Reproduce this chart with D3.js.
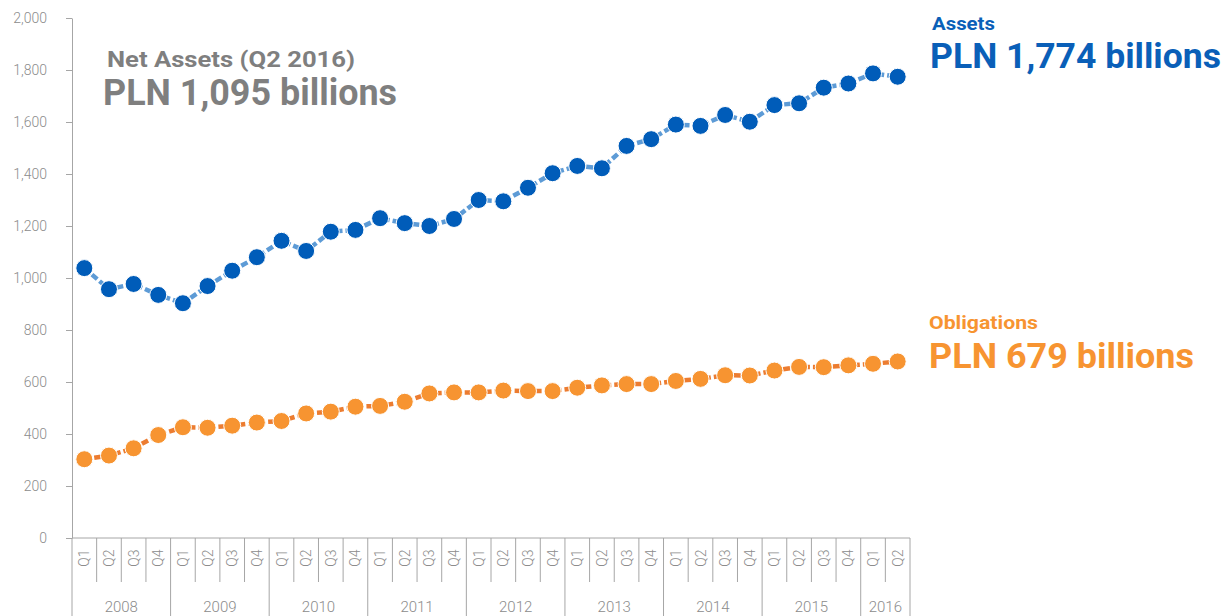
<!DOCTYPE html>
<html>
<head>
<meta charset="utf-8">
<script src="https://d3js.org/d3.v7.min.js"></script>
<style>
  body { margin: 0; background: #fff; }
  svg text { font-family: Roboto, "Liberation Sans", sans-serif; }
  .y.axis text { fill: #8c8c8c; font-size: 14px; font-weight: 300; }
  .y.axis path, .y.axis line { stroke: #a6a6a6; }
</style>
</head>
<body>
<svg id="chart" width="1226" height="616"></svg>
<script>
const years = ["2008", "2009", "2010", "2011", "2012", "2013", "2014", "2015", "2016"];
const quartersPerYear = [4, 4, 4, 4, 4, 4, 4, 4, 2];
const yTicks = [0, 200, 400, 600, 800, 1000, 1200, 1400, 1600, 1800, 2000];
const assets = [1038, 957, 977, 935, 903, 969, 1028, 1080, 1143, 1104, 1178, 1185,
                1230, 1211, 1200, 1227, 1300, 1295, 1347, 1403, 1431, 1422, 1508, 1534,
                1590, 1585, 1627, 1601, 1665, 1672, 1732, 1748, 1787, 1774];
const obligations = [303, 317, 345, 396, 426, 424, 432, 444, 450, 479, 486, 505,
                     508, 524, 556, 560, 560, 567, 565, 565, 578, 587, 592, 592,
                     604, 612, 626, 625, 644, 658, 657, 664, 670, 679];

// quarter labels built from the year list
const quarters = [];
years.forEach((y, i) => {
  for (let q = 1; q <= quartersPerYear[i]; q++) quarters.push({ year: y, q: "Q" + q, key: y + "Q" + q });
});

const svg = d3.select("#chart");
const margin = { top: 18, left: 72 };
const chartWidth = 838;
const chartHeight = 520;

const x = d3.scaleBand().domain(quarters.map(d => d.key)).range([margin.left, margin.left + chartWidth]);
const y = d3.scaleLinear().domain([0, 2000]).range([margin.top + chartHeight, margin.top]);

// y axis
svg.append("g")
  .attr("class", "y axis")
  .attr("transform", "translate(" + margin.left + ",0)")
  .call(d3.axisLeft(y).tickValues(yTicks).tickFormat(d3.format(",")).tickSize(6).tickSizeOuter(0).tickPadding(19));

// x axis: baseline, quarter separators, year separators
const axisY = y(0);
const xAxis = svg.append("g").attr("class", "x axis");
xAxis.append("line")
  .attr("x1", margin.left).attr("x2", margin.left + chartWidth)
  .attr("y1", axisY).attr("y2", axisY)
  .attr("stroke", "#a6a6a6");

quarters.forEach((d, i) => {
  const bx = x(d.key);
  const isYearStart = d.q === "Q1";
  if (i > 0) {
    xAxis.append("line")
      .attr("x1", bx).attr("x2", bx)
      .attr("y1", axisY).attr("y2", isYearStart ? 616 : 582)
      .attr("stroke", "#a6a6a6");
  }
  xAxis.append("text")
    .attr("transform", "translate(" + (bx + x.bandwidth() / 2 + 5) + "," + (axisY + 20) + ") rotate(-90)")
    .attr("text-anchor", "middle")
    .attr("fill", "#8c8c8c")
    .attr("font-size", 14)
    .attr("font-weight", 300)
    .text(d.q);
});
xAxis.append("line")
  .attr("x1", margin.left).attr("x2", margin.left)
  .attr("y1", axisY).attr("y2", 616).attr("stroke", "#a6a6a6");
xAxis.append("line")
  .attr("x1", margin.left + chartWidth).attr("x2", margin.left + chartWidth)
  .attr("y1", axisY).attr("y2", 616).attr("stroke", "#a6a6a6");

let idx = 0;
years.forEach((yr, i) => {
  const first = quarters[idx].key;
  const last = quarters[idx + quartersPerYear[i] - 1].key;
  const cx = (x(first) + x(last) + x.bandwidth()) / 2;
  xAxis.append("text")
    .attr("x", cx).attr("y", 612)
    .attr("text-anchor", "middle")
    .attr("fill", "#8c8c8c")
    .attr("font-size", 15)
    .attr("font-weight", 300)
    .text(yr);
  idx += quartersPerYear[i];
});

// series
const cxOf = i => x(quarters[i].key) + x.bandwidth() / 2;
const line = d3.line().x((d, i) => cxOf(i)).y(d => y(d));

function drawSeries(values, lineColor, dotColor, dash) {
  const g = svg.append("g");
  g.append("path")
    .datum(values)
    .attr("d", line)
    .attr("fill", "none")
    .attr("stroke", lineColor)
    .attr("stroke-width", 4.5)
    .attr("stroke-dasharray", dash);
  g.selectAll("circle")
    .data(values)
    .join("circle")
    .attr("cx", (d, i) => cxOf(i))
    .attr("cy", d => y(d))
    .attr("r", 8.5)
    .attr("fill", dotColor)
    .attr("stroke", "#fff")
    .attr("stroke-width", 1);
}
drawSeries(assets, "#5d9bd6", "#005cb9", "7,3");
drawSeries(obligations, "#ec7c30", "#f79431", "7,3");

// annotations
const ann = svg.append("g").attr("font-weight", "bold");
function note(tx, ty, color, size, width, label) {
  ann.append("text").attr("x", tx).attr("y", ty).attr("fill", color).attr("font-size", size)
    .attr("textLength", width).attr("lengthAdjust", "spacingAndGlyphs").text(label);
}
note(107, 67, "#7f7f7f", 22, 248, "Net Assets (Q2 2016)");
note(103, 105, "#7f7f7f", 36, 294, "PLN 1,095 billions");
note(932, 30, "#0a5fb8", 19, 63, "Assets");
note(930, 68, "#0a5fb8", 35, 291, "PLN 1,774 billions");
note(929, 329, "#f79431", 19, 109, "Obligations");
note(929, 368, "#f79431", 35, 265, "PLN 679 billions");
</script>
</body>
</html>
